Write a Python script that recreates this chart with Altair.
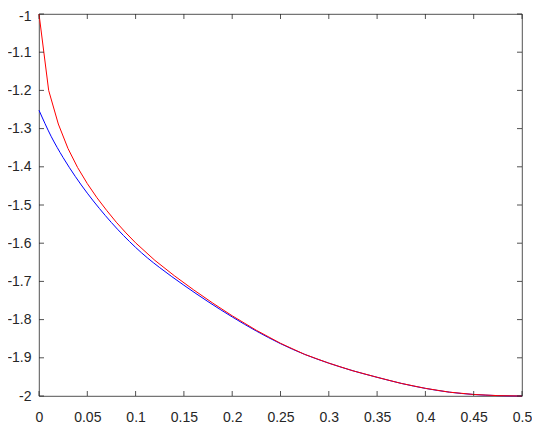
import altair as alt
import pandas as pd

# Data
blue_x = [0, 0.0125, 0.025, 0.0375, 0.05, 0.0625, 0.075, 0.0875, 0.1, 0.1125, 0.125,
          0.15, 0.175, 0.2, 0.225, 0.25, 0.275, 0.3, 0.325, 0.35, 0.375, 0.4, 0.425,
          0.45, 0.475, 0.5]
blue_y = [-1.252, -1.320, -1.376, -1.425, -1.469, -1.509, -1.546, -1.580, -1.611, -1.639,
          -1.664, -1.710, -1.753, -1.793, -1.830, -1.863, -1.891, -1.914, -1.934, -1.951,
          -1.967, -1.980, -1.990, -1.996, -1.999, -2.000]

red_x = [0, 0.01, 0.02, 0.03, 0.04, 0.05, 0.06, 0.07, 0.08, 0.09, 0.10, 0.12, 0.14, 0.16,
         0.18, 0.20, 0.225, 0.25, 0.275, 0.3, 0.325, 0.35, 0.375, 0.4, 0.425, 0.45, 0.475, 0.5]
red_y = [-1.000, -1.200, -1.288, -1.352, -1.402, -1.444, -1.481, -1.514, -1.545, -1.573,
         -1.599, -1.645, -1.685, -1.722, -1.757, -1.790, -1.828, -1.862, -1.891, -1.914,
         -1.934, -1.951, -1.967, -1.980, -1.990, -1.996, -1.999, -2.000]

x_ticks = [0, 0.05, 0.1, 0.15, 0.2, 0.25, 0.3, 0.35, 0.4, 0.45, 0.5]
y_ticks = [-2, -1.9, -1.8, -1.7, -1.6, -1.5, -1.4, -1.3, -1.2, -1.1, -1]

W, H = 483, 382
TICK = 5
AX = "#262626"
FONT = "Liberation Sans"

blue_df = pd.DataFrame({"x": blue_x, "y": blue_y})
red_df = pd.DataFrame({"x": red_x, "y": red_y})
xt_df = pd.DataFrame({"x": x_ticks})
yt_df = pd.DataFrame({"y": y_ticks})

xscale = alt.Scale(domain=[0, 0.5], nice=False, zero=False)
yscale = alt.Scale(domain=[-2, -1], nice=False, zero=False)

xaxis = alt.Axis(values=x_ticks, title=None, grid=False, domain=False, tickSize=0,
                 labelPadding=14, labelFont=FONT, labelFontSize=14, labelColor=AX,
                 labelExpr="'' + datum.value", labelFlush=False, labelOverlap=False)
yaxis = alt.Axis(values=y_ticks, title=None, grid=False, domain=False, tickSize=0,
                 labelPadding=8, labelFont=FONT, labelFontSize=14, labelColor=AX,
                 labelExpr="'' + datum.value", labelFlush=False, labelOverlap=False,
                 labelOffset={"condition": {"test": "datum.value == -1", "value": 2},
                              "value": 0})

X = alt.X("x:Q", scale=xscale, axis=xaxis)
Y = alt.Y("y:Q", scale=yscale, axis=yaxis)

blue = alt.Chart(blue_df).mark_line(color="#0000FF", strokeWidth=1, interpolate="monotone").encode(
    x=X, y=Y)
red = alt.Chart(red_df).mark_line(color="#FF0000", strokeWidth=1, interpolate="linear").encode(
    x=X, y=Y)

tick_style = dict(color=AX, strokeWidth=0.8)
xt_bottom = alt.Chart(xt_df).mark_rule(**tick_style).encode(
    x=X, y=alt.value(H), y2=alt.value(H - TICK))
xt_top = alt.Chart(xt_df).mark_rule(**tick_style).encode(
    x=X, y=alt.value(0), y2=alt.value(TICK))
yt_left = alt.Chart(yt_df).mark_rule(**tick_style).encode(
    y=Y, x=alt.value(0), x2=alt.value(TICK))
yt_right = alt.Chart(yt_df).mark_rule(**tick_style).encode(
    y=Y, x=alt.value(W), x2=alt.value(W - TICK))

chart = alt.layer(blue, red, xt_bottom, xt_top, yt_left, yt_right).properties(
    width=W, height=H,
    autosize=alt.AutoSizeParams(type="none"),
    padding={"left": 31, "top": 6, "right": 10, "bottom": 28},
    background="white",
).configure_view(stroke=AX, strokeWidth=0.8)

chart.save("out.html", embed_options={"renderer": "svg", "actions": False})
